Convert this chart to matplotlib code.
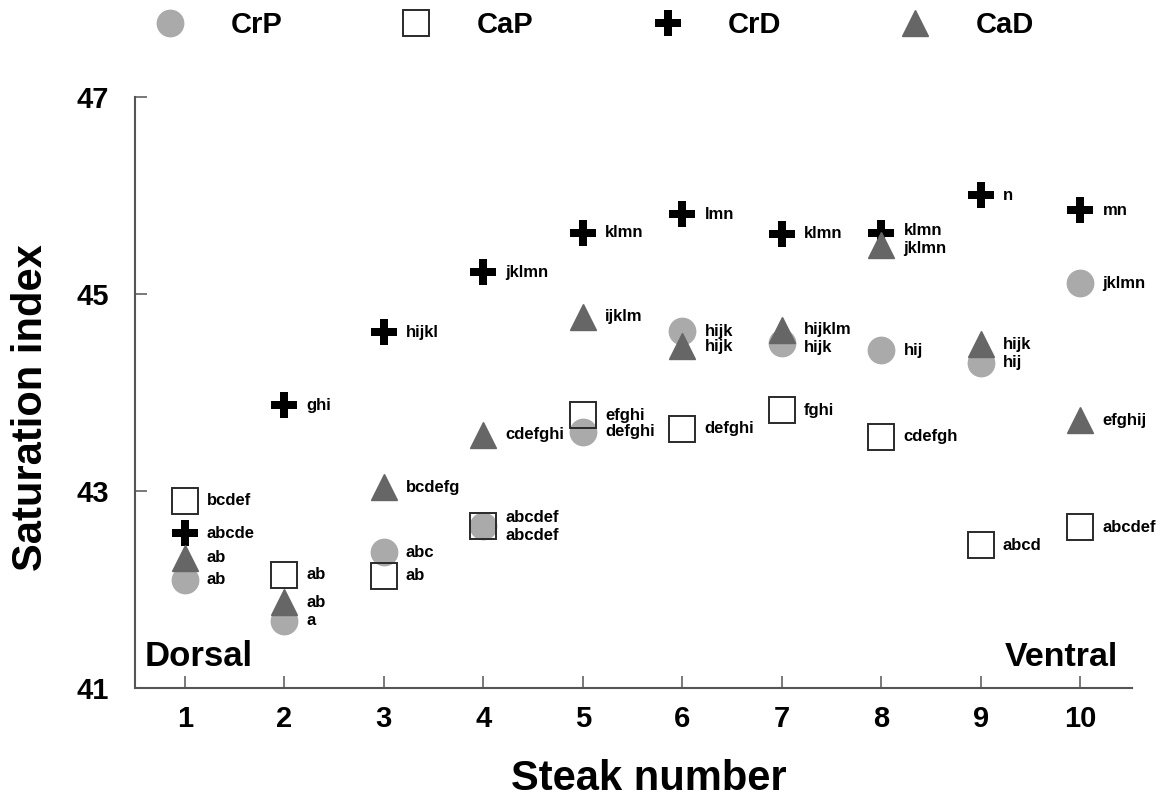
import numpy as np
import matplotlib
matplotlib.use("Agg")
import matplotlib.pyplot as plt
from matplotlib.lines import Line2D

plt.rcParams['font.family'] = ['Liberation Sans', 'DejaVu Sans']
plt.rcParams['font.weight'] = 'bold'

steaks = np.arange(1, 11)

# saturation index per steak
CrP = [42.10, 41.68, 42.38, 42.64, 43.60, 44.62, 44.50, 44.43, 44.30, 45.11]
CaP = [42.90, 42.15, 42.14, 42.64, 43.77, 43.63, 43.82, 43.55, 42.45, 42.63]
CrD = [42.57, 43.87, 44.61, 45.22, 45.62, 45.81, 45.61, 45.62, 46.00, 45.85]
CaD = [42.32, 41.87, 43.04, 43.57, 44.77, 44.47, 44.63, 45.50, 44.49, 43.72]

# significance letters
CrP_lbl = ['ab', 'a', 'abc', 'abcdef', 'defghi', 'hijk', 'hijk', 'hij', 'hij', 'jklmn']
CaP_lbl = ['bcdef', 'ab', 'ab', 'abcdef', 'efghi', 'defghi', 'fghi', 'cdefgh', 'abcd', 'abcdef']
CrD_lbl = ['abcde', 'ghi', 'hijkl', 'jklmn', 'klmn', 'lmn', 'klmn', 'klmn', 'n', 'mn']
CaD_lbl = ['ab', 'ab', 'bcdefg', 'cdefghi', 'ijklm', 'hijk', 'hijklm', 'jklmn', 'hijk', 'efghij']

series = [
    ('CrP', CrP, CrP_lbl, dict(marker='o', color='#aaaaaa', mec='#aaaaaa')),
    ('CaP', CaP, CaP_lbl, dict(marker='s', color='none', mfc='none', mec='#2a2a2a', mew=1.4)),
    ('CrD', CrD, CrD_lbl, dict(marker='P', color='black', mec='black', mew=0)),
    ('CaD', CaD, CaD_lbl, dict(marker='^', color='#666666', mec='#666666')),
]

# small vertical nudges where two labels would sit on top of each other
nudge = {('CaP', 4): 6.5, ('CrP', 4): -6.5,
         ('CrD', 8): 1.5, ('CaD', 8): -3,
         ('CrP', 7): -3, ('CaD', 7): 1}

fig = plt.figure(figsize=(11.64, 7.97), dpi=100)
ax = fig.add_axes([0.116, 0.1368, 0.8565, 0.7415])

ms = 19
for name, vals, lbls, style in series:
    ax.plot(steaks, vals, ls='none', ms=ms, **style)
    for x, y, s in zip(steaks, vals, lbls):
        dy = nudge.get((name, x), 0)
        ax.annotate(s, (x, y), xytext=(16, dy), textcoords='offset points',
                    ha='left', va='center', fontsize=12, fontweight='bold')

ax.set_xlim(0.5, 10.52)
ax.set_ylim(41, 47)
ax.set_xticks(steaks)
ax.set_yticks([41, 43, 45, 47])

for side in ['top', 'right']:
    ax.spines[side].set_visible(False)
for side in ['left', 'bottom']:
    ax.spines[side].set_color('#555555')
    ax.spines[side].set_linewidth(1.5)

ax.tick_params(axis='both', direction='in', length=8.6, width=1.1, color='#555555',
               labelsize=21)
ax.tick_params(axis='y', pad=19)
ax.tick_params(axis='x', pad=12)
for lab in ax.get_xticklabels() + ax.get_yticklabels():
    lab.set_fontweight('bold')

ax.text(0.6, 41.22, 'Dorsal', fontsize=25, fontweight='bold', ha='left', va='baseline')
ax.text(10.38, 41.22, 'Ventral', fontsize=24.5, fontweight='bold', ha='right', va='baseline')

fig.text(0.0266, 0.489, 'Saturation index', rotation=90, ha='center', va='center',
         fontsize=30, fontweight='bold')
fig.text(0.557, 0.0088, 'Steak number', ha='center', va='baseline',
         fontsize=30, fontweight='bold')

handles = [Line2D([], [], ls='none', ms=ms, **style) for _, _, _, style in series]
names = [s[0] for s in series]
fig.legend(handles, names, loc='center', bbox_to_anchor=(0.511, 0.9686), ncol=4,
           frameon=False, fontsize=21, handlelength=1, handletextpad=1.57,
           columnspacing=4.1, borderpad=0, borderaxespad=0)

fig.savefig('out.png', dpi=100)
